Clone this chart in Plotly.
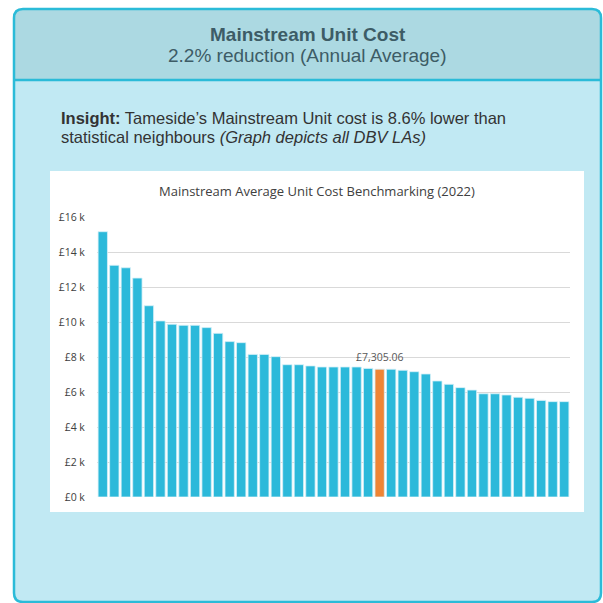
import plotly.graph_objects as go

W, H = 603, 603

# ---- data ----
local_authorities = [
    "LA 01", "LA 02", "LA 03", "LA 04", "LA 05", "LA 06", "LA 07", "LA 08", "LA 09", "LA 10",
    "LA 11", "LA 12", "LA 13", "LA 14", "LA 15", "LA 16", "LA 17", "LA 18", "LA 19", "LA 20",
    "LA 21", "LA 22", "LA 23", "LA 24", "Tameside", "LA 26", "LA 27", "LA 28", "LA 29", "LA 30",
    "LA 31", "LA 32", "LA 33", "LA 34", "LA 35", "LA 36", "LA 37", "LA 38", "LA 39", "LA 40",
    "LA 41",
]
unit_cost = [
    15160, 13240, 13100, 12510, 10930, 10060, 9870, 9810, 9810, 9680,
    9350, 8880, 8820, 8150, 8150, 8020, 7560, 7560, 7490, 7430,
    7430, 7430, 7430, 7350, 7305.06, 7300, 7240, 7160, 7030, 6630,
    6440, 6250, 6110, 5900, 5900, 5830, 5700, 5640, 5520, 5450,
    5450,
]
highlight = "Tameside"
tick_values = [0, 2000, 4000, 6000, 8000, 10000, 12000, 14000, 16000]
tick_labels = ["£0 k", "£2 k", "£4 k", "£6 k", "£8 k", "£10 k", "£12 k", "£14 k", "£16 k"]

card_title = "Mainstream Unit Cost"
card_subtitle = "2.2% reduction (Annual Average)"
insight_line1 = "<b>Insight:</b> Tameside\u2019s Mainstream Unit cost is 8.6% lower than"
insight_line2 = "statistical neighbours <i>(Graph depicts all DBV LAs)</i>"
chart_title = "Mainstream Average Unit Cost Benchmarking (2022)"

BLUE = "#2cb9da"
ORANGE = "#ef8535"
BORDER = "#2bbbd8"
HEADER_BG = "#acd9e2"
BODY_BG = "#c1e9f3"


def px(x):
    return x / W


def py(y):
    return 1 - y / H


def rounded_path(x0, y0, x1, y1, r, top=True, bottom=True):
    rt = r if top else 0
    rb = r if bottom else 0
    p = f"M {px(x0 + rt)},{py(y0)} L {px(x1 - rt)},{py(y0)} "
    p += f"Q {px(x1)},{py(y0)} {px(x1)},{py(y0 + rt)} "
    p += f"L {px(x1)},{py(y1 - rb)} Q {px(x1)},{py(y1)} {px(x1 - rb)},{py(y1)} "
    p += f"L {px(x0 + rb)},{py(y1)} Q {px(x0)},{py(y1)} {px(x0)},{py(y1 - rb)} "
    p += f"L {px(x0)},{py(y0 + rt)} Q {px(x0)},{py(y0)} {px(x0 + rt)},{py(y0)} Z"
    return p


colors = [ORANGE if c == highlight else BLUE for c in local_authorities]
highlight_value = unit_cost[local_authorities.index(highlight)]

fig = go.Figure(
    go.Bar(
        x=local_authorities,
        y=unit_cost,
        marker=dict(color=colors, line=dict(color="#d6f0f7", width=0.8)),
        hoverinfo="x+y",
    )
)

CL, CT, CR, CB = 14, 9, 601, 602
shapes = [
    dict(type="path", path=rounded_path(CL, CT, CR, CB, 9), xref="paper", yref="paper",
         fillcolor=BODY_BG, line=dict(width=0), layer="below"),
    dict(type="path", path=rounded_path(CL, CT, CR, 80, 9, bottom=False), xref="paper", yref="paper",
         fillcolor=HEADER_BG, line=dict(width=0), layer="below"),
    dict(type="line", x0=px(CL), x1=px(CR), y0=py(80), y1=py(80), xref="paper", yref="paper",
         line=dict(color=BORDER, width=2.5), layer="below"),
    dict(type="path", path=rounded_path(CL, CT, CR, CB, 9), xref="paper", yref="paper",
         fillcolor="rgba(0,0,0,0)", line=dict(color=BORDER, width=2.5), layer="below"),
    dict(type="rect", x0=px(50), x1=px(584), y0=py(171), y1=py(512), xref="paper", yref="paper",
         fillcolor="white", line=dict(width=0), layer="below"),
]

annotations = [
    dict(text=f"<b>{card_title}</b>", x=px(308), y=py(35), xref="paper", yref="paper",
         showarrow=False, xanchor="center", yanchor="middle",
         font=dict(family="Liberation Sans", size=19, color="#3d5c66")),
    dict(text=card_subtitle, x=px(307), y=py(55.5), xref="paper", yref="paper",
         showarrow=False, xanchor="center", yanchor="middle",
         font=dict(family="Liberation Sans", size=19, color="#3d5c66")),
    dict(text=insight_line1, x=px(59), y=py(117.5), xref="paper", yref="paper",
         showarrow=False, xanchor="left", yanchor="middle",
         font=dict(family="Liberation Sans", size=16.5, color="#333333")),
    dict(text=insight_line2, x=px(59), y=py(137), xref="paper", yref="paper",
         showarrow=False, xanchor="left", yanchor="middle",
         font=dict(family="Liberation Sans", size=16.5, color="#333333")),
    dict(text=chart_title, x=px(317), y=py(191), xref="paper", yref="paper",
         showarrow=False, xanchor="center", yanchor="middle",
         font=dict(family="Open Sans", size=13, color="#404040")),
    dict(text=f"£{highlight_value:,.2f}", x=highlight, y=highlight_value, xref="x", yref="y",
         showarrow=False, xanchor="center", yanchor="bottom", yshift=3,
         font=dict(family="Open Sans", size=10.5, color="#595959")),
]

fig.update_layout(
    width=W, height=H,
    autosize=False,
    margin=dict(l=0, r=0, t=0, b=0, pad=0, autoexpand=False),
    paper_bgcolor="white",
    plot_bgcolor="rgba(0,0,0,0)",
    showlegend=False,
    bargap=0.19,
    shapes=shapes,
    annotations=annotations,
    xaxis=dict(domain=[px(97), px(570)], showticklabels=False, showgrid=False,
               zeroline=False, showline=False, ticks="", fixedrange=True, automargin=False),
    yaxis=dict(domain=[py(497), py(217)], range=[0, 16000], tickvals=tick_values,
               ticktext=tick_labels, showgrid=True, gridcolor="#d9d9d9", gridwidth=1,
               zeroline=False, showline=False, ticks="outside", ticklen=9,
               tickcolor="rgba(0,0,0,0)", automargin=False,
               tickfont=dict(family="Open Sans", size=10.5, color="#404040"),
               fixedrange=True),
)

post = (
    "document.documentElement.style.margin='0';"
    "document.body.style.margin='0';document.body.style.padding='0';"
    "document.body.style.overflow='hidden';"
    "var d=document.getElementById('{plot_id}');"
    "d.style.position='fixed';d.style.left='0px';d.style.top='0px';"
)

fig.write_html("out.html", post_script=post,
               config={"displayModeBar": False, "responsive": False})
